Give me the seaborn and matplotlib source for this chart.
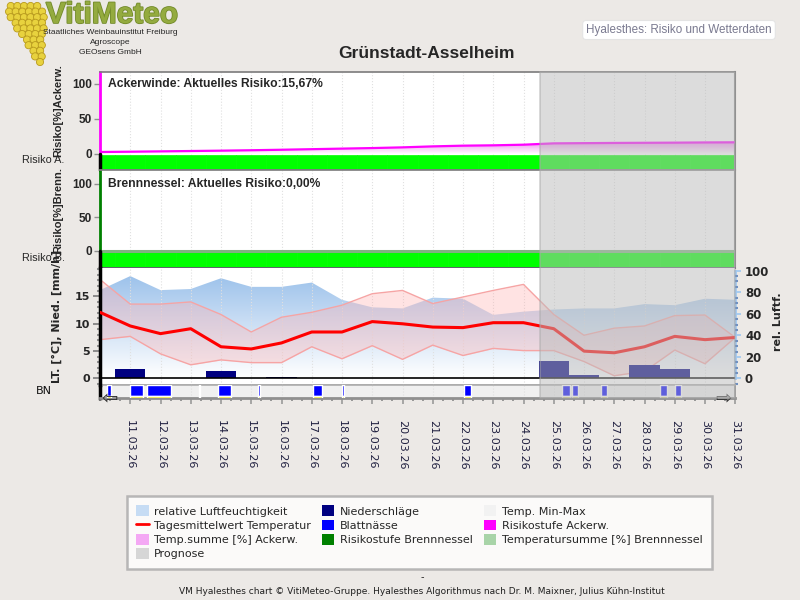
import numpy as np
import matplotlib
matplotlib.use("Agg")
import matplotlib.pyplot as plt
import matplotlib.patheffects as pe
import seaborn as sns
from matplotlib.colors import LinearSegmentedColormap
from matplotlib.lines import Line2D
from matplotlib.patches import Circle, PathPatch, Patch, Rectangle
from matplotlib.ticker import MultipleLocator
from matplotlib.transforms import blended_transform_factory

# ---- data (days of March 2026) ----
days = [10, 11, 12, 13, 14, 15, 16, 17, 18, 19, 20,
        21, 22, 23, 24, 25, 26, 27, 28, 29, 30, 31]
date_labels = ["11.03.26", "12.03.26", "13.03.26", "14.03.26", "15.03.26",
               "16.03.26", "17.03.26", "18.03.26", "19.03.26", "20.03.26",
               "21.03.26", "22.03.26", "23.03.26", "24.03.26", "25.03.26",
               "26.03.26", "27.03.26", "28.03.26", "29.03.26", "30.03.26",
               "31.03.26"]
temp_mean = [12.1, 9.6, 8.2, 9.1, 5.8, 5.4, 6.5, 8.5, 8.5, 10.4, 10.0,
             9.4, 9.3, 10.2, 10.2, 9.1, 5.0, 4.7, 5.8, 7.7, 7.1, 7.5]
temp_max = [18.1, 13.6, 13.6, 14.0, 11.7, 8.5, 11.2, 12.1, 13.4, 15.5, 16.1,
            13.7, 14.9, 16.1, 17.2, 11.7, 7.9, 9.2, 9.6, 11.5, 11.6, 7.5]
temp_min = [7.1, 7.7, 4.5, 2.5, 3.4, 2.9, 2.9, 5.8, 3.6, 6.0, 3.5,
            6.1, 4.2, 5.5, 5.1, 5.1, 3.1, 0.5, 1.3, 5.2, 2.7, 7.5]
humidity = [82, 95, 82, 83, 93, 85, 85, 89, 73, 66, 65,
            75, 74, 59, 62, 64, 65, 65, 69, 68, 74, 73]
precip_days = [11, 14, 16, 25, 26, 28, 29]
precip_mm = [1.7, 1.35, 0.2, 3.2, 0.6, 2.5, 1.7]
bn_start = [10.24, 10.99, 11.56, 13.27, 13.91, 15.22, 17.04, 18.0,
            22.03, 25.27, 25.61, 26.56, 28.51, 29.0]
bn_end = [10.36, 11.41, 12.34, 13.31, 14.32, 15.28, 17.34, 18.05,
          22.25, 25.54, 25.80, 26.76, 28.73, 29.2]
tsum_acker = [2.8, 3.2, 3.7, 4.2, 4.7, 5.3, 6.0, 6.8, 7.6, 8.4, 9.4,
              10.8, 11.8, 12.3, 13.2, 15.1, 15.4, 15.7, 15.9, 16.1, 16.4, 16.6]
tsum_brenn = [0, 0, 0, 0, 0, 0, 0, 0, 0, 0, 0,
              0, 0, 0, 0, 0, 0, 0, 0, 0, 0, 0]
risk_acker = [0, 0, 0, 0, 0, 0, 0, 0, 0, 0, 0,
              0, 0, 0, 0, 0, 0, 0, 0, 0, 0, 0]
risk_brenn = [0, 0, 0, 0, 0, 0, 0, 0, 0, 0, 0,
              0, 0, 0, 0, 0, 0, 0, 0, 0, 0, 0]
risk_colors = {0: "#00ff00", 1: "#ffff00", 2: "#ff8000", 3: "#ff0000"}
prognose_start = 24.55

sns.set_theme(style="white")
plt.rcParams["font.family"] = ["DejaVu Sans"]

BG = "#ece9e6"
fig = plt.figure(figsize=(8, 6), dpi=100, facecolor=BG)


def fx(px):
    return px / 800


def fy(py):
    return 1 - py / 600


X0, X1 = 100, 735.25


def panel(top, bottom):
    return fig.add_axes([fx(X0), fy(bottom), fx(X1 - X0), (bottom - top) / 600])


def gradient_fill(ax, x, y, y0, ytop, color, zorder=1):
    poly = ax.fill_between(x, y0, y, facecolor="none", edgecolor="none")
    cmap = LinearSegmentedColormap.from_list("g", ["#ffffff", color])
    grad = np.linspace(0, 1, 256).reshape(-1, 1)
    im = ax.imshow(grad, cmap=cmap, aspect="auto", origin="lower",
                   extent=[x[0], x[-1], y0, ytop], zorder=zorder)
    patch = PathPatch(poly.get_paths()[0], transform=ax.transData,
                      facecolor="none", edgecolor="none")
    ax.add_patch(patch)
    im.set_clip_path(patch)


ax1 = panel(72, 170)
ax2 = panel(170, 268)
axh = panel(268, 384.5)
axb = panel(384.5, 398)
axt = axh.twinx()

SEP = "#6a4878"
bold_arial = dict(family="Liberation Sans", weight="bold")

# ---- panel 1: Ackerwinde ----
gradient_fill(ax1, days, tsum_acker, 0, max(tsum_acker), "#f090f0")
sns.lineplot(x=days, y=tsum_acker, ax=ax1, color="#ff00ff", lw=1.6, zorder=3)
ax1.bar(days, -20.3, bottom=-1.2, width=1.0,
        color=[risk_colors[r] for r in risk_acker],
        edgecolor=[risk_colors[r] for r in risk_acker], lw=0.5, zorder=2)
ax1.set_ylim(-22.8, 116.6)

# ---- panel 2: Brennnessel ----
sns.lineplot(x=days, y=tsum_brenn, ax=ax2, color="#80b080", lw=2.2, zorder=3)
ax2.bar(days, -24.0, bottom=-1.0, width=1.0,
        color=[risk_colors[r] for r in risk_brenn],
        edgecolor=[risk_colors[r] for r in risk_brenn], lw=0.5, zorder=2)
ax2.set_ylim(-25.8, 120.4)

for ax, spine_col in ((ax1, "#ff00ff"), (ax2, "#008000")):
    ax.set_yticks([0, 50, 100])
    ax.tick_params(axis="y", direction="out", length=4, width=1,
                   color="#909090", pad=2, left=True)
    for lab in ax.get_yticklabels():
        lab.set_fontproperties(dict(family="Liberation Sans", weight="bold", size=8.5))
    ax.spines["left"].set_color(spine_col)
    ax.spines["left"].set_linewidth(2)
    ax.spines["left"].set_bounds(0, ax.get_ylim()[1])
    ax.plot([10, 10], [ax.get_ylim()[0], 0], color="black", lw=2.5,
            clip_on=False, zorder=5)
    ax.spines["right"].set_color("#808080")
    ax.spines["right"].set_linewidth(1.5)
    ax.spines["top"].set_color("#808080")
    ax.spines["bottom"].set_color(SEP)
    ax.spines["bottom"].set_linewidth(1.2)

# ---- panel 3: weather ----
gradient_fill(axh, days, humidity, 0, 100, "#98bfea")
axh.set_ylim(-5.6, 102.5)
axh.yaxis.tick_right()
axh.set_yticks([0, 20, 40, 60, 80, 100])
axh.yaxis.set_minor_locator(MultipleLocator(5))
axh.tick_params(axis="y", which="major", right=True, direction="out", length=4,
                color="#a0c8f0", labelsize=8.5, pad=3)
axh.tick_params(axis="y", which="minor", right=True, direction="out", length=2,
                width=1.5, color="#7090c0")
for lab in axh.get_yticklabels():
    lab.set_fontweight("bold")
axh.set_axisbelow(False)

axt.fill_between(days, temp_min, temp_max, color="#ffb0b0", alpha=0.35,
                 lw=0, zorder=1)
sns.lineplot(x=days, y=temp_max, ax=axt, color="#f6a4a4", lw=1, zorder=2)
sns.lineplot(x=days, y=temp_min, ax=axt, color="#f6a4a4", lw=1, zorder=2)
axt.bar(precip_days, precip_mm, width=1.0, color="#000080", lw=0, zorder=3)
axt.axhline(0, color="black", lw=1.2, zorder=4)
sns.lineplot(x=days, y=temp_mean, ax=axt, color="#ff0000", lw=2.2, zorder=5)
axt.set_ylim(-1.1, 20.2)
axt.yaxis.tick_left()
axt.set_yticks([0, 5, 10, 15])
axt.yaxis.set_minor_locator(MultipleLocator(1))
axt.tick_params(axis="y", which="major", left=True, right=False, direction="out",
                length=5, color="#808080", labelsize=8, pad=2)
axt.tick_params(axis="y", which="minor", left=True, right=False, direction="out",
                length=2, width=1.5, color="#909090")
for lab in axt.get_yticklabels():
    lab.set_fontweight("bold")

axh.spines["right"].set_color("#a0c8f0")
axh.spines["right"].set_linewidth(2)
axh.spines["right"].set_bounds(0, 100)
axh.spines["left"].set_visible(False)
axh.spines["top"].set_visible(False)
axh.spines["bottom"].set_color("#909090")
for s in ("right", "top", "bottom"):
    axt.spines[s].set_visible(False)
axt.spines["left"].set_color("black")
axt.spines["left"].set_linewidth(2.5)

# ---- BN strip (Blattnässe) ----
axb.set_facecolor("#f0f0f0")
axb.broken_barh([(s, e - s) for s, e in zip(bn_start, bn_end)], (0.12, 0.88),
                facecolors="#0000ff", zorder=3)
axb.broken_barh([(s, e - s) for s, e in zip(bn_start, bn_end)], (0, 0.12),
                facecolors="#e8e000", zorder=3)
axb.set_ylim(0, 1)
axb.set_yticks([])
axb.spines["left"].set_color("black")
axb.spines["left"].set_linewidth(2.5)
axb.spines["bottom"].set_color("#909090")
axb.spines["bottom"].set_linewidth(2)
axb.spines["right"].set_color("#909090")
axb.spines["top"].set_color("#b0b0b0")

# ---- shared x axis ----
for ax in (ax1, ax2, axh, axt, axb):
    ax.set_xlim(10, 31)
    ax.set_xlabel("")
    ax.set_ylabel("")
for ax in (ax1, ax2, axh, axb):
    ax.set_xticks(days)
    ax.grid(axis="x", ls=":", color="#e0e0e0", lw=0.8)
    ax.grid(axis="y", visible=False)
for ax in (ax1, ax2, axh, axt):
    ax.tick_params(axis="x", length=0, labelbottom=False)
axb.set_xticks(days[1:])
axb.set_xticklabels(date_labels, rotation=-90, fontsize=8, color="#202040")
axb.xaxis.set_minor_locator(MultipleLocator(1 / 3))
axb.tick_params(axis="x", which="major", bottom=True, direction="out", length=4,
                width=1.3, color="#a0a0a0", pad=12)
axb.tick_params(axis="x", which="minor", bottom=True, direction="out", length=2.5,
                width=1.3, color="#909090")

# ---- Prognose overlay ----
trans = blended_transform_factory(ax1.transData, fig.transFigure)
fig.add_artist(Rectangle((prognose_start, fy(398)), 31 - prognose_start,
                         fy(72) - fy(398), transform=trans, facecolor="#bcbcbc",
                         edgecolor="#a8a8a8", lw=1.2, alpha=0.51, zorder=10))

# ---- texts ----
fig.text(fx(427), fy(54), "Grünstadt-Asselheim", ha="center", va="center",
         fontsize=12.5, **bold_arial)
fig.text(fx(108), fy(84), "Ackerwinde: Aktuelles Risiko:15,67%", va="center",
         fontsize=8.7, **bold_arial)
fig.text(fx(108), fy(184), "Brennnessel: Aktuelles Risiko:0,00%", va="center",
         fontsize=8.7, **bold_arial)
fig.text(fx(58), fy(111), "Risiko[%]Ackerw.", rotation=90, ha="center",
         va="center", fontsize=8, **bold_arial)
fig.text(fx(58), fy(210), "Risiko[%]Brenn.", rotation=90, ha="center",
         va="center", fontsize=8, **bold_arial)
fig.text(fx(57), fy(316), "LT. [°C], Nied. [mm/h]", rotation=90, ha="center",
         va="center", fontsize=8, fontweight="bold")
fig.text(fx(778), fy(322), "rel. Luftf.", rotation=90, ha="center",
         va="center", fontsize=8, fontweight="bold")
fig.text(fx(22), fy(160), "Risiko A.", va="center", fontsize=7.8,
         family="Liberation Sans")
fig.text(fx(22), fy(258), "Risiko B.", va="center", fontsize=7.8,
         family="Liberation Sans")
fig.text(fx(36), fy(391), "BN", va="center", fontsize=8, color="#101010")
fig.text(fx(110), fy(399), "\u21e6", ha="center", va="center", fontsize=14,
         color="#303030")
fig.text(fx(724), fy(399), "\u21e8", ha="center", va="center", fontsize=14,
         color="#303030")

fig.text(fx(679), fy(30), "Hyalesthes: Risiko und Wetterdaten", ha="center",
         va="center", fontsize=8.4, color="#7a7a90", family="Liberation Sans",
         bbox=dict(boxstyle="round,pad=0.3,rounding_size=0.3", fc="white",
                   ec="#e4e4e4", lw=0.8))

# logo
fig.text(fx(112), fy(15), "VitiMeteo", ha="center", va="center", fontsize=21.5,
         color="#94ab3f", **bold_arial,
         path_effects=[pe.withStroke(linewidth=1.2, foreground="#728a2a")])
for i, line in enumerate(["Staatliches Weinbauinstitut Freiburg", "Agroscope",
                          "GEOsens GmbH"]):
    fig.text(fx(110), fy(33 + 10 * i), line, ha="center", va="center",
             fontsize=6, family="Liberation Sans")
for i, n in enumerate([5, 6, 6, 5, 5, 4, 3, 3, 2, 2, 1]):
    cy = 6 + i * 5.6
    cx0 = 24 + i * 1.6 - (n - 1) * 3.3
    for j in range(n):
        fig.add_artist(Circle(((cx0 + j * 6.6) / 100, (600 - cy) / 100), 0.036,
                              transform=fig.dpi_scale_trans, facecolor="#e8d23e",
                              edgecolor="#b89a1c", lw=0.6, zorder=2))

# legend
handles = [
    Patch(facecolor="#c6dcf4", edgecolor="none"),
    Line2D([], [], color="#ff0000", lw=2),
    Patch(facecolor="#f4a8f4", edgecolor="none"),
    Patch(facecolor="#d6d6d6", edgecolor="none"),
    Patch(facecolor="#000080", edgecolor="none"),
    Patch(facecolor="#0000ff", edgecolor="none"),
    Patch(facecolor="#008000", edgecolor="none"),
    Patch(facecolor="#f2f2f2", edgecolor="none"),
    Patch(facecolor="#ff00ff", edgecolor="none"),
    Patch(facecolor="#a8d4a8", edgecolor="none"),
]
labels = ["relative Luftfeuchtigkeit", "Tagesmittelwert Temperatur",
          "Temp.summe [%] Ackerw.", "Prognose", "Niederschläge", "Blattnässe",
          "Risikostufe Brennnessel", "Temp. Min-Max", "Risikostufe Ackerw.",
          "Temperatursumme [%] Brennnessel"]
leg = fig.legend(handles, labels, loc="upper left",
                 bbox_to_anchor=(fx(127), fy(568), fx(712) - fx(127), (568 - 496) / 600),
                 mode="expand", ncol=3, fontsize=8, frameon=True, fancybox=False,
                 edgecolor="#a8a8a8", borderaxespad=0, handlelength=1.1,
                 handleheight=1.1, handletextpad=0.5, labelspacing=0.28,
                 borderpad=0.85, columnspacing=1.0)
leg.get_frame().set_linewidth(1.8)
leg.get_frame().set_facecolor("white")

fig.text(fx(422), fy(577), "-", ha="center", va="center", fontsize=7)
fig.text(fx(422), fy(591), "VM Hyalesthes chart © VitiMeteo-Gruppe. Hyalesthes "
         "Algorithmus nach Dr. M. Maixner, Julius Kühn-Institut", ha="center",
         va="center", fontsize=6.5, color="#202020")

fig.savefig("out.png", dpi=100, facecolor=BG)
